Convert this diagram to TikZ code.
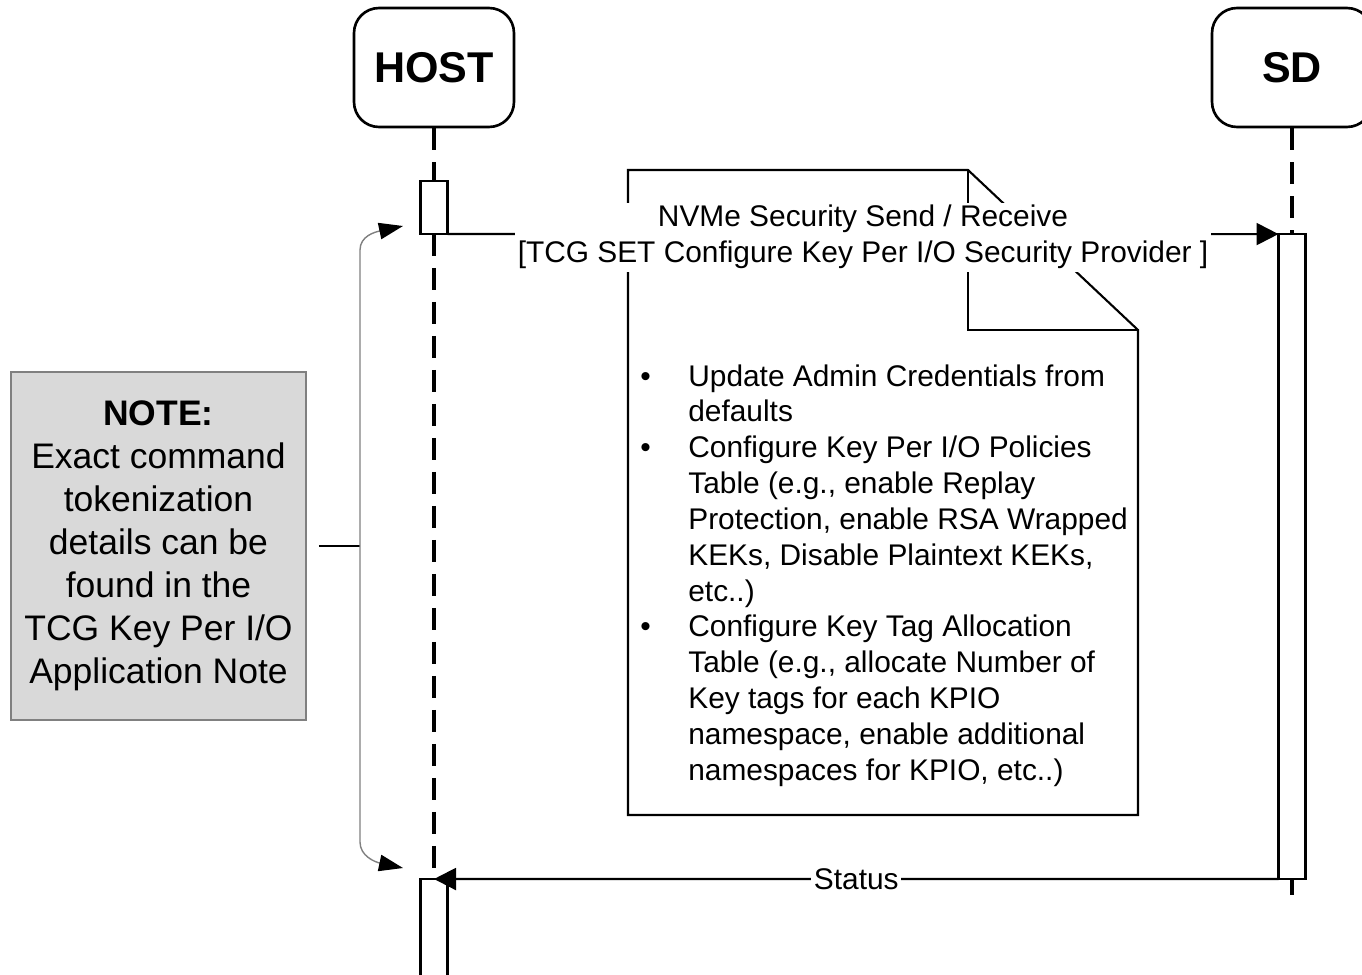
\documentclass[tikz,border=0pt]{standalone}
\usepackage{fontspec}
\setmainfont{Liberation Sans}
\usetikzlibrary{arrows.meta, positioning}

\begin{document}
\begin{tikzpicture}[x=0.02cm, y=-0.02cm,
			actor/.style={draw, rectangle, rounded corners=0.5cm, line width=1.5pt, minimum width=3.2cm, minimum height=2.38cm, font=\fontsize{24.5}{29}\selectfont\bfseries},
			actbar/.style={draw, rectangle, fill=white, line width=1.2pt, minimum width=0.54cm, inner sep=0pt, outer sep=0pt},
			lifeline/.style={line width=1.8pt, dash pattern=on 0.44cm off 0.24cm},
			msg/.style={-{Triangle[length=0.44cm, width=0.44cm]}, line width=1.2pt},
			msgtext/.style={fill=white, inner sep=1.5pt, align=center, font=\fontsize{17}{20.4}\selectfont},
			notebox/.style={draw=gray, fill=black!15, line width=1.1pt, minimum width=5.9cm, minimum height=6.96cm, align=center, font=\fontsize{20.2}{24.5}\selectfont},
			bracket/.style={{Triangle[length=0.48cm, width=0.33cm, color=black]}-{Triangle[length=0.48cm, width=0.33cm, color=black]}, draw=gray, line width=0.8pt}
			]
			\useasboundingbox (0,0) rectangle (1362,974);
			\clip (0,0) rectangle (1362,974);
			
			% Actors
			\node[actor] (host) at (434, 67.5) {HOST};
			\node[actor] (sd) at (1292, 67.5) {SD};
			
			% Activation bars
			\node[actbar, minimum height=1.06cm] (hostbar1) at (434, 207.5) {};
			\node[actbar, minimum height=12.9cm] (sdbar) at (1292, 556.5) {};
			\node[actbar, minimum height=2.6cm] (hostbar2) at (434, 944) {};
			\coordinate (sdend) at (1292, 895);
			
			% Lifelines
			\draw[lifeline] (host.south) -- (hostbar1.north);
			\draw[lifeline] (hostbar1.south) -- (hostbar2.north);
			\draw[lifeline] (sd.south) -- (sdbar.north);
			\draw[lifeline] (sdbar.south) -- (sdend);
			
			% Note
			\draw[line width=1.2pt] (628, 815) -- (628, 170) -- (968, 170) -- (1138, 330) -- (1138, 815) -- cycle;
			\draw[line width=1.2pt] (968, 170) -- (968, 330) -- (1138, 330);
			\node[anchor=north west, inner sep=0pt, align=left, font=\fontsize{17}{20.4}\selectfont] (steps) at (640, 364) {%
				\makebox[0.96cm][l]{\textbullet}Update Admin Credentials from\\
				\hspace*{0.96cm}defaults\\
				\makebox[0.96cm][l]{\textbullet}Configure Key Per I/O Policies\\
				\hspace*{0.96cm}Table (e.g., enable Replay\\
				\hspace*{0.96cm}Protection, enable RSA Wrapped\\
				\hspace*{0.96cm}KEKs, Disable Plaintext KEKs,\\
				\hspace*{0.96cm}etc..)\\
				\makebox[0.96cm][l]{\textbullet}Configure Key Tag Allocation\\
				\hspace*{0.96cm}Table (e.g., allocate Number of\\
				\hspace*{0.96cm}Key tags for each KPIO\\
				\hspace*{0.96cm}namespace, enable additional\\
				\hspace*{0.96cm}namespaces for KPIO, etc..)};
			
			% Messages
			\draw[msg] (hostbar1.south east) -- (sdbar.north west) node[midway, msgtext, yshift=-0.06cm] {NVMe Security Send / Receive\\{[}TCG SET Configure Key Per I/O Security Provider ]};
			\draw[msg] (sdbar.south west) -- (hostbar2.north) node[midway, msgtext] {Status};
			
			% Side note
			\node[notebox] (gnote) at (158.5, 546) {\textbf{NOTE:}\\Exact command\\tokenization\\details can be\\found in the\\TCG Key Per I/O\\Application Note};
			\coordinate (bracetop) at (403, 226);
			\coordinate (bracemid) at (360, 546);
			\coordinate (bracebot) at (403, 868);
			\draw[line width=0.8pt] ([xshift=0.24cm]gnote.east) -- (bracemid);
			\draw[bracket] (bracetop) .. controls (375, 232) and (360, 236) .. (360, 250) -- (bracemid) -- (360, 842) .. controls (360, 856) and (375, 862) .. (bracebot);
		\end{tikzpicture}
\end{document}
